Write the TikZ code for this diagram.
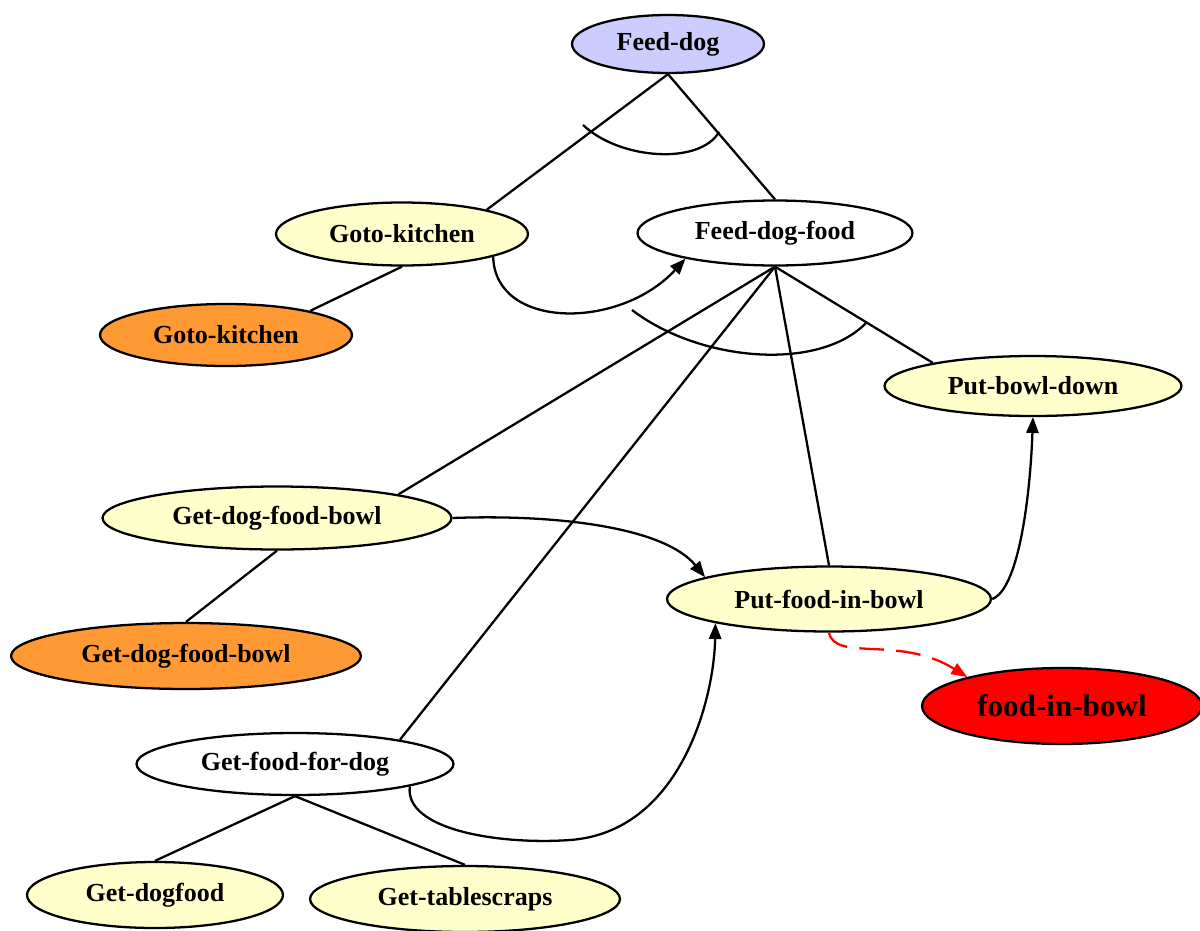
\documentclass[tikz,border=0pt]{standalone}
\usepackage{fontspec}
\setmainfont{Liberation Serif}
\usetikzlibrary{shapes.geometric,arrows.meta}
\definecolor{goalblue}{RGB}{204,204,255}
\definecolor{taskyellow}{RGB}{255,255,204}
\definecolor{primorange}{RGB}{255,153,51}
\begin{document}
\begin{tikzpicture}[x=0.02cm,y=-0.02cm,line width=1.3pt,
	nv/.style={draw,ellipse,inner sep=0pt,text=black,font=\fontsize{14.8}{17}\selectfont\bfseries},
	gv/.style={nv,fill=goalblue},yv/.style={nv,fill=taskyellow},
	ov/.style={nv,fill=primorange},wv/.style={nv,fill=white},
	rv/.style={nv,fill=red,font=\fontsize{17.7}{20}\selectfont\bfseries},
	arr/.style={-{Triangle[length=9pt,width=7pt]}}]
	\useasboundingbox (0,0) rectangle (1200,930);
	% nodes
	\node[gv,minimum width=3.84cm,minimum height=1.16cm] (feeddog) at (668,44) {Feed-dog};
	\node[yv,minimum width=5.04cm,minimum height=1.26cm] (gotok) at (402,234) {Goto-kitchen};
	\node[wv,minimum width=5.5cm,minimum height=1.3cm] (feedfood) at (775,233) {Feed-dog-food};
	\node[ov,minimum width=5.04cm,minimum height=1.24cm] (gotokop) at (226,335) {Goto-kitchen};
	\node[yv,minimum width=5.94cm,minimum height=1.2cm] (putdown) at (1033,386) {Put-bowl-down};
	\node[yv,minimum width=6.98cm,minimum height=1.26cm] (getbowl) at (277,518) {Get-dog-food-bowl};
	\node[yv,minimum width=6.48cm,minimum height=1.3cm] (putfood) at (829,599) {Put-food-in-bowl};
	\node[ov,minimum width=7.0cm,minimum height=1.32cm] (getbowlop) at (186,656) {Get-dog-food-bowl};
	\node[rv,minimum width=5.6cm,minimum height=1.52cm] (foodbowl) at (1062,706) {food-in-bowl};
	\node[wv,minimum width=6.34cm,minimum height=1.24cm] (getfood) at (295,764) {Get-food-for-dog};
	\node[yv,minimum width=5.12cm,minimum height=1.32cm] (dogfood) at (155,895) {Get-dogfood};
	\node[yv,minimum width=6.2cm,minimum height=1.32cm] (scraps) at (465,899) {Get-tablescraps};
	% and-arcs
	\coordinate (a1) at (583,125);
	\coordinate (a2) at (719,132);
	\coordinate (b1) at (632,310);
	\coordinate (b2) at (867,322);
	\draw (a1) .. controls (620,160) and (700,165) .. (a2);
	\draw (b1) .. controls (700,362) and (820,372) .. (b2);
	% decomposition
	\draw (feeddog.south) -- (gotok.16);
	\draw (feeddog.south) -- (feedfood.north);
	\draw (gotok.south) -- (gotokop.16);
	\draw (feedfood.south) -- (getbowl.11);
	\draw (feedfood.south) -- (getfood.13);
	\draw (feedfood.south) -- (putfood.north);
	\draw (feedfood.south) -- (putdown.167);
	\draw (getbowl.south) -- (getbowlop.north);
	\draw (getfood.south) -- (dogfood.north);
	\draw (getfood.south) -- (scraps.north);
	% ordering
	\draw[arr] (gotok.-14) .. controls (495,330) and (620,330) .. (feedfood.196);
	\draw[arr] (getbowl.east) .. controls (560,514) and (665,528) .. (putfood.170);
	\draw[arr] (putfood.east) .. controls (1018,590) and (1030,500) .. (putdown.south);
	\draw[arr] (getfood.-11) .. controls (404,830) and (500,845) .. (570,840)
		.. controls (680,832) and (714,700) .. (putfood.192);
	\draw[arr,red,dash pattern=on 14pt off 7pt] (putfood.south) .. controls (835,662) and (900,635) .. (foodbowl.163);
\end{tikzpicture}
\end{document}
